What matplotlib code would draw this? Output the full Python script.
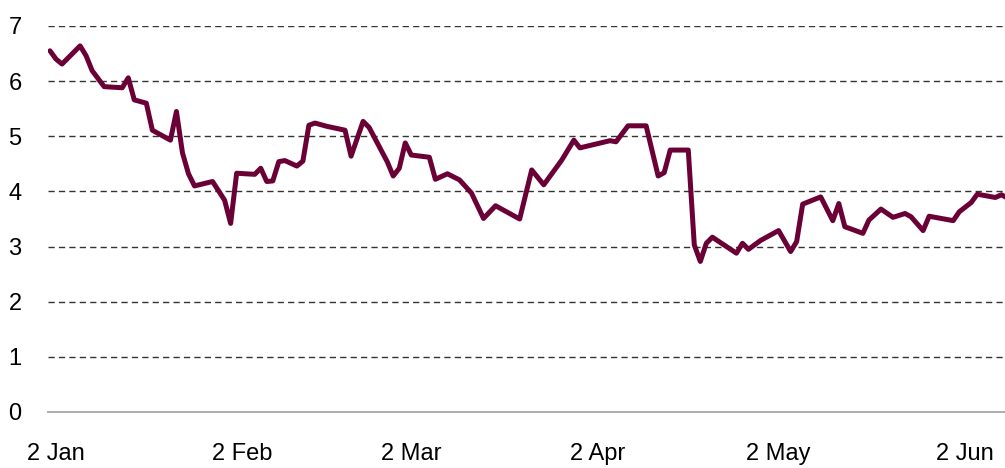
import numpy as np
import matplotlib
matplotlib.use("Agg")
import matplotlib.pyplot as plt
import matplotlib.dates as mdates

# ---- data ----
dates = [
    "2015-01-01", "2015-01-02", "2015-01-03", "2015-01-06", "2015-01-07", "2015-01-08",
    "2015-01-10", "2015-01-13", "2015-01-14", "2015-01-15", "2015-01-17", "2015-01-18",
    "2015-01-21", "2015-01-22", "2015-01-23", "2015-01-24", "2015-01-25", "2015-01-28",
    "2015-01-30", "2015-01-31", "2015-02-01", "2015-02-04", "2015-02-05", "2015-02-06",
    "2015-02-07", "2015-02-08", "2015-02-09", "2015-02-11", "2015-02-12", "2015-02-13",
    "2015-02-14", "2015-02-16", "2015-02-19", "2015-02-20", "2015-02-22", "2015-02-23",
    "2015-02-26", "2015-02-27", "2015-02-28", "2015-03-01", "2015-03-02", "2015-03-05",
    "2015-03-06", "2015-03-08", "2015-03-10", "2015-03-12", "2015-03-14", "2015-03-16",
    "2015-03-20", "2015-03-22", "2015-03-24", "2015-03-27", "2015-03-29", "2015-03-30",
    "2015-04-04", "2015-04-05", "2015-04-07", "2015-04-10", "2015-04-12", "2015-04-13",
    "2015-04-14", "2015-04-17", "2015-04-18", "2015-04-19", "2015-04-20", "2015-04-21",
    "2015-04-25", "2015-04-26", "2015-04-27", "2015-04-29", "2015-05-02", "2015-05-04",
    "2015-05-05", "2015-05-06", "2015-05-09", "2015-05-11", "2015-05-12", "2015-05-13",
    "2015-05-16", "2015-05-17", "2015-05-19", "2015-05-21", "2015-05-23", "2015-05-24",
    "2015-05-26", "2015-05-27", "2015-05-31", "2015-06-01", "2015-06-03", "2015-06-04",
    "2015-06-07", "2015-06-08", "2015-06-09",
]
values = [
    6.55, 6.40, 6.31, 6.64, 6.46, 6.19,
    5.90, 5.88, 6.06, 5.66, 5.60, 5.11,
    4.93, 5.45, 4.70, 4.32, 4.10, 4.18,
    3.84, 3.42, 4.33, 4.31, 4.42, 4.18,
    4.19, 4.54, 4.56, 4.46, 4.55, 5.20,
    5.24, 5.18, 5.11, 4.64, 5.27, 5.16,
    4.54, 4.28, 4.42, 4.88, 4.66, 4.62,
    4.22, 4.32, 4.21, 3.97, 3.51, 3.74,
    3.50, 4.39, 4.12, 4.57, 4.93, 4.79,
    4.92, 4.90, 5.19, 5.19, 4.28, 4.34,
    4.75, 4.75, 3.03, 2.73, 3.06, 3.17,
    2.88, 3.06, 2.95, 3.11, 3.29, 2.91,
    3.09, 3.77, 3.90, 3.47, 3.78, 3.36,
    3.24, 3.48, 3.68, 3.53, 3.60, 3.54,
    3.29, 3.55, 3.47, 3.63, 3.80, 3.95,
    3.89, 3.94, 3.88,
]
tick_dates = ["2015-01-02", "2015-02-02", "2015-03-02", "2015-04-02", "2015-05-02", "2015-06-02"]
tick_labels = ["2 Jan", "2 Feb", "2 Mar", "2 Apr", "2 May", "2 Jun"]
y_ticks = [0, 1, 2, 3, 4, 5, 6, 7]

# ---- figure ----
plt.rcParams['font.family'] = ['Liberation Sans Narrow', 'Liberation Sans', 'DejaVu Sans']

W, H, DPI = 1005, 468, 100
fig = plt.figure(figsize=(W / DPI, H / DPI), dpi=DPI)
ax = fig.add_axes([48 / W, 1 - 412 / H, 1 - 48 / W, (412 - 26) / H])

x = np.array(dates, dtype="datetime64[D]")
ax.plot(x, values, color="#6B0037", lw=3.6, solid_joinstyle="round",
        solid_capstyle="round", zorder=3)

start = np.datetime64("2015-01-02")
ax.set_xlim(mdates.date2num(start) - 1.33, mdates.date2num(start) + 157.6)
ax.set_ylim(0, 7)

ax.set_yticks(y_ticks)
ax.set_yticklabels([str(v) for v in y_ticks])
ax.set_xticks(mdates.date2num(np.array(tick_dates, dtype="datetime64[D]")))
ax.set_xticklabels(tick_labels)

for v in y_ticks[1:]:
    ax.axhline(v, color="#333333", lw=1.0, ls=(0, (4.5, 3.0)), zorder=1)

for s in ["top", "right", "left"]:
    ax.spines[s].set_visible(False)
ax.spines["bottom"].set_color("#A6A6A6")
ax.spines["bottom"].set_linewidth(1.3)

ax.tick_params(axis="y", length=0, pad=19, labelsize=17, labelcolor="#000000")
ax.tick_params(axis="x", length=0, pad=22, labelsize=17, labelcolor="#000000")

fig.savefig("out.png", dpi=DPI)
